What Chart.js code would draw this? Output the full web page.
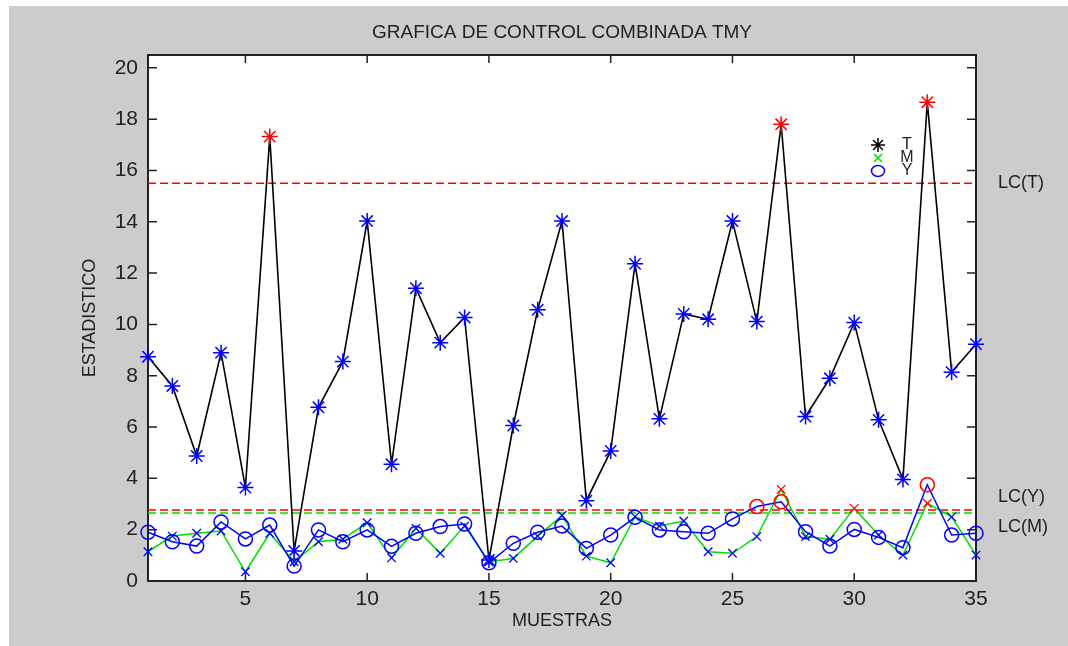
<!DOCTYPE html>
<html>
<head>
<meta charset="utf-8">
<title>Grafica de control combinada TMY</title>
<script src="https://cdn.jsdelivr.net/npm/chart.js@4.4.0/dist/chart.umd.min.js"></script>
<style>
    html, body { margin: 0; padding: 0; background: #fff; }
    #wrap { width: 1068px; height: 646px; }
</style>
</head>
<body>
<div id="wrap"><canvas id="tmyChart" width="1068" height="646"></canvas></div>
<script>
const muestras = [1, 2, 3, 4, 5, 6, 7, 8, 9, 10, 11, 12, 13, 14, 15, 16, 17, 18,
    19, 20, 21, 22, 23, 24, 25, 26, 27, 28, 29, 30, 31, 32, 33, 34, 35];

const valoresT = [8.74, 7.6, 4.87, 8.9, 3.64, 17.32, 1.17, 6.77, 8.55, 14.03, 4.55, 11.41,
    9.29, 10.27, 0.82, 6.06, 10.57, 14.03, 3.13, 5.07, 12.36, 6.32, 10.41, 10.2,
    14.03, 10.11, 17.8, 6.41, 7.9, 10.07, 6.28, 3.96, 18.66, 8.14, 9.23];

const valoresM = [1.14, 1.75, 1.86, 1.95, 0.36, 1.86, 0.75, 1.53, 1.63, 2.27, 0.9, 2.05,
    1.08, 2.14, 0.75, 0.88, 1.75, 2.55, 0.97, 0.71, 2.51, 2.14, 2.34, 1.14,
    1.08, 1.73, 3.57, 1.73, 1.63, 2.83, 1.79, 1.01, 3.03, 2.5, 1.01];

const valoresY = [1.9, 1.53, 1.36, 2.3, 1.64, 2.18, 0.58, 1.99, 1.53, 1.99, 1.35, 1.86,
    2.12, 2.22, 0.71, 1.47, 1.9, 2.14, 1.27, 1.79, 2.48, 1.99, 1.92, 1.86,
    2.42, 2.9, 3.09, 1.92, 1.36, 2.01, 1.7, 1.3, 3.75, 1.79, 1.86];

// limites de control
const LCT = 15.5;
const LCY = 2.77;
const LCM = 2.65;

const xTicks = [5, 10, 15, 20, 25, 30, 35];
const yTicks = [0, 2, 4, 6, 8, 10, 12, 14, 16, 18, 20];

const FONT = '"Liberation Sans", Arial, sans-serif';
const INK = '#222';

function puntos(valores) {
    return valores.map((v, i) => ({ x: muestras[i], y: v }));
}

function limite(v) {
    return [{ x: muestras[0], y: v }, { x: muestras[muestras.length - 1], y: v }];
}

function colorFuera(lc) {
    return ctx => (ctx.raw && ctx.raw.y > lc) ? '#ff0000' : '#0000ff';
}

// fondo gris de la figura y area blanca
const fondoFigura = {
    id: 'fondoFigura',
    beforeDraw(chart) {
        const { ctx, chartArea: a } = chart;
        ctx.save();
        ctx.fillStyle = '#cccccc';
        ctx.fillRect(9, 6, chart.width - 9, chart.height - 6);
        ctx.fillStyle = '#ffffff';
        ctx.fillRect(a.left, a.top, a.right - a.left, a.bottom - a.top);
        // titulo centrado sobre el area del grafico
        ctx.fillStyle = INK;
        ctx.font = '19px ' + FONT;
        ctx.textAlign = 'center';
        ctx.textBaseline = 'middle';
        ctx.fillText('GRAFICA DE CONTROL COMBINADA TMY', (a.left + a.right) / 2, 33);
        ctx.restore();
    }
};

// caja de ejes con marcas hacia dentro
const cajaEjes = {
    id: 'cajaEjes',
    beforeDatasetsDraw(chart) {
        const { ctx, chartArea: a, scales: { x, y } } = chart;
        ctx.save();
        ctx.strokeStyle = INK;
        ctx.lineWidth = 2;
        ctx.strokeRect(a.left, a.top, a.right - a.left, a.bottom - a.top);
        ctx.lineWidth = 1.5;
        ctx.beginPath();
        yTicks.forEach(v => {
            const py = y.getPixelForValue(v);
            ctx.moveTo(a.left, py); ctx.lineTo(a.left + 9, py);
            ctx.moveTo(a.right, py); ctx.lineTo(a.right - 9, py);
        });
        xTicks.forEach(v => {
            const px = x.getPixelForValue(v);
            ctx.moveTo(px, a.bottom); ctx.lineTo(px, a.bottom - 8);
            ctx.moveTo(px, a.top); ctx.lineTo(px, a.top + 8);
        });
        ctx.stroke();
        ctx.restore();
    }
};

// leyenda y etiquetas LC
const etiquetas = {
    id: 'etiquetas',
    afterDatasetsDraw(chart) {
        const { ctx, chartArea: a, scales: { y } } = chart;
        ctx.save();
        ctx.fillStyle = INK;
        ctx.font = '18px ' + FONT;
        ctx.textAlign = 'left';
        ctx.textBaseline = 'middle';
        ctx.fillText('LC(T)', a.right + 22, y.getPixelForValue(LCT));
        ctx.fillText('LC(Y)', a.right + 22, y.getPixelForValue(LCY) - 13);
        ctx.fillText('LC(M)', a.right + 22, y.getPixelForValue(LCM) + 14);

        // leyenda
        const lx = a.right - 98;
        const ly = a.top + 90;
        ctx.lineWidth = 1.5;
        // asterisco negro
        ctx.strokeStyle = '#000';
        ctx.beginPath();
        for (let k = 0; k < 4; k++) {
            const ang = k * Math.PI / 4;
            ctx.moveTo(lx - 7 * Math.cos(ang), ly - 7 * Math.sin(ang));
            ctx.lineTo(lx + 7 * Math.cos(ang), ly + 7 * Math.sin(ang));
        }
        ctx.stroke();
        // x verde
        ctx.strokeStyle = '#00dd00';
        ctx.beginPath();
        ctx.moveTo(lx - 4, ly + 9); ctx.lineTo(lx + 4, ly + 17);
        ctx.moveTo(lx + 4, ly + 9); ctx.lineTo(lx - 4, ly + 17);
        ctx.stroke();
        // circulo azul
        ctx.strokeStyle = '#0000ff';
        ctx.beginPath();
        ctx.ellipse(lx, ly + 26, 6.5, 5.5, 0, 0, Math.PI * 2);
        ctx.stroke();

        ctx.fillStyle = INK;
        ctx.font = '16px ' + FONT;
        ctx.textAlign = 'center';
        ctx.fillText('T', lx + 29, ly);
        ctx.fillText('M', lx + 29, ly + 13);
        ctx.fillText('Y', lx + 29, ly + 26);
        ctx.restore();
    }
};

new Chart(document.getElementById('tmyChart'), {
    type: 'line',
    data: {
        datasets: [{
            label: 'T',
            data: puntos(valoresT),
            borderColor: '#000',
            borderWidth: 1.6,
            tension: 0,
            clip: false,
            pointStyle: 'star',
            pointRadius: 8,
            pointBorderWidth: 1.5,
            pointBorderColor: colorFuera(LCT),
            pointBackgroundColor: 'transparent',
            order: 3
        }, {
            label: 'M',
            data: puntos(valoresM),
            borderColor: '#00dd00',
            borderWidth: 1.5,
            tension: 0,
            clip: false,
            pointStyle: 'crossRot',
            pointRadius: 6,
            pointBorderWidth: 1.3,
            pointBorderColor: colorFuera(LCM),
            pointBackgroundColor: 'transparent',
            order: 2
        }, {
            label: 'Y',
            data: puntos(valoresY),
            borderColor: '#0000ff',
            borderWidth: 1.5,
            tension: 0,
            clip: false,
            pointStyle: 'circle',
            pointRadius: 7,
            pointBorderWidth: 1.5,
            pointBorderColor: colorFuera(LCY),
            pointBackgroundColor: 'transparent',
            order: 1
        }, {
            label: 'LC(T)',
            data: limite(LCT),
            borderColor: '#ff0000',
            borderWidth: 1.5,
            borderDash: [8, 4],
            pointRadius: 0,
            order: 6
        }, {
            label: 'LC(Y)',
            data: limite(LCY),
            borderColor: '#ff0000',
            borderWidth: 1.5,
            borderDash: [8, 4],
            pointRadius: 0,
            order: 5
        }, {
            label: 'LC(M)',
            data: limite(LCM),
            borderColor: '#00dd00',
            borderWidth: 1.5,
            borderDash: [8, 4],
            pointRadius: 0,
            order: 4
        }]
    },
    options: {
        responsive: false,
        animation: false,
        layout: { padding: { top: 55, right: 92, bottom: 0, left: 0 } },
        plugins: {
            legend: { display: false },
            tooltip: { enabled: false }
        },
        scales: {
            x: {
                type: 'linear',
                min: 1,
                max: 35,
                afterBuildTicks: s => { s.ticks = xTicks.map(v => ({ value: v })); },
                afterFit: s => { s.height = 65; },
                grid: { display: false, drawTicks: false },
                border: { display: false },
                ticks: { color: INK, padding: 6, font: { family: FONT, size: 21 } },
                title: {
                    display: true,
                    text: 'MUESTRAS',
                    color: INK,
                    font: { family: FONT, size: 18 },
                    padding: { top: 0, bottom: 14 }
                }
            },
            y: {
                min: 0,
                max: 20.5,
                afterBuildTicks: s => { s.ticks = yTicks.map(v => ({ value: v })); },
                afterFit: s => { s.width = 148; },
                grid: { display: false, drawTicks: false },
                border: { display: false },
                ticks: { color: INK, padding: 10, font: { family: FONT, size: 21 } },
                title: {
                    display: true,
                    text: 'ESTADISTICO',
                    color: INK,
                    font: { family: FONT, size: 18 },
                    padding: { top: 79, bottom: 0 }
                }
            }
        }
    },
    plugins: [fondoFigura, cajaEjes, etiquetas]
});
</script>
</body>
</html>
